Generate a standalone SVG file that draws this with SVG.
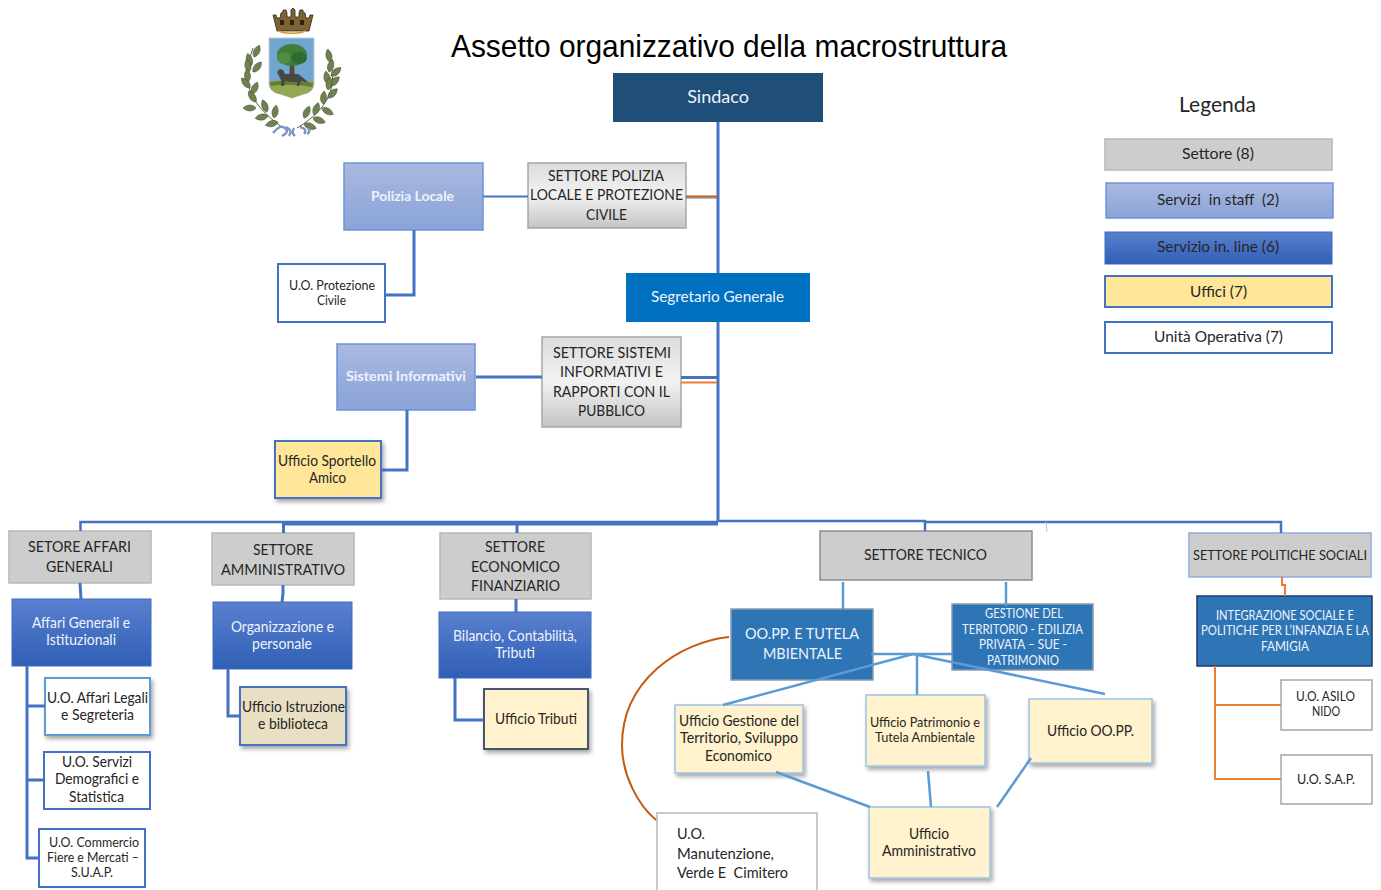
<svg xmlns="http://www.w3.org/2000/svg" xmlns:xlink="http://www.w3.org/1999/xlink" width="1381" height="890" viewBox="0 0 1381 890">
<style>
text{font-family:Lato,"Liberation Sans",sans-serif;font-size:15px;text-anchor:middle;fill:#262626}
.w{fill:#eef3fb}.b{font-weight:700}.s13{font-size:13px}.s14{font-size:14px}.s16{font-size:16px}.st{text-anchor:start}
.gray{fill:url(#g);stroke:#a6a6a6;stroke-width:1.5}
.gray2{fill:#cdcdcd;stroke:#b8b8b8;stroke-width:1.5}
.staff{fill:url(#st);stroke:#6f93d6;stroke-width:1.5}
.line{fill:url(#li);stroke:#3f6dbb;stroke-width:1}
.dk{fill:#2e75b6;stroke:#8a9cb0;stroke-width:1.5}
.uo{fill:#fff;stroke:#4472c4;stroke-width:2}
.uy{fill:#ffe699;stroke:#4472c4;stroke-width:2;filter:url(#sh)}
.uf{fill:#fff2cc;stroke:#9dc3e6;stroke-width:1.5;filter:url(#sh)}
.c{fill:none;stroke:#4472c4;stroke-width:3}
.l{fill:none;stroke:#5b9bd5;stroke-width:2.5}
.o{fill:none;stroke:#c55a11;stroke-width:2}
.o2{fill:none;stroke:#ed7d31;stroke-width:2}
.leaf{fill:#6f8350;stroke:#3a4530;stroke-width:.5}
</style>
<defs>
<linearGradient id="g" x1="0" y1="0" x2="0" y2="1"><stop offset="0" stop-color="#dcdcdc"/><stop offset=".5" stop-color="#f2f2f2"/><stop offset="1" stop-color="#c4c4c4"/></linearGradient>
<linearGradient id="st" x1="0" y1="0" x2="0" y2="1"><stop offset="0" stop-color="#aab9e0"/><stop offset="1" stop-color="#8aa3d9"/></linearGradient>
<linearGradient id="li" x1="0" y1="0" x2="0" y2="1"><stop offset="0" stop-color="#5a80cf"/><stop offset="1" stop-color="#2f5fb5"/></linearGradient>
<filter id="sh" x="-15%" y="-15%" width="130%" height="130%"><feDropShadow dx="2" dy="3" stdDeviation="2" flood-color="#000" flood-opacity=".35"/></filter>
<filter id="soft"><feGaussianBlur stdDeviation=".35"/></filter>
<path id="lf" d="M0 0C3-4 9-4 13 0C9 4 3 4 0 0Z" class="leaf"/>
</defs>

<g id="crest" filter="url(#soft)">
<path d="M273 15l3 0 1 3 3 0 1-5 2-1 0-2 3 0 1 3 0 4 4 0 0-7 2-2 2 2 0 7 4 0 0-4 1-3 3 0 0 2 2 1 1 5 3 0 1-3 3 0-4 16H277Z" fill="#7d6230" stroke="#2f2818" stroke-width=".8"/>
<path d="M280 20h4v5h-4ZM290 20h4v5h-4ZM300 20h4v5h-4Z" fill="#2c2416"/>
<path d="M278 30q14 5 28 0l-3 3q-11 2-22 0Z" fill="#d39a3e"/>
<path d="M269 38h45v45q0 9-10 11l-12 4-12-4q-11-2-11-11Z" fill="#6fa6cf" stroke="#c5c9cc"/>
<path d="M269 82q20-6 45 0v1q0 9-10 11l-12 4-12-4q-11-2-11-11Z" fill="#94a852"/>
<path d="M270 82q20-3 43 1l-1 4q-20-4-41-1Z" fill="#5f7f38"/>
<path d="M290 62h4l1 20h-6Z" fill="#5a4630"/>
<ellipse cx="292" cy="55" rx="15" ry="11" fill="#3f7d3b"/>
<ellipse cx="284" cy="58" rx="7" ry="6" fill="#4f8c42"/>
<ellipse cx="299" cy="58" rx="8" ry="6" fill="#2f6a33"/>
<path d="M277 72l3-3 3 1 2 4 13 0 4 3 7 6-8-2-2 5h-2l0-4-12-1-1 5h-3l0-6-3-6Z" fill="#4a4642"/>
<g transform="translate(220 0)">
<path d="M33 48C22 80 25 100 63 128M107 50C118 80 115 105 77 128" fill="none" stroke="#5a6048" stroke-width="1"/>
<use xlink:href="#lf" transform="translate(34 57) rotate(-65)"/>
<use xlink:href="#lf" transform="translate(31 66) rotate(-105)"/>
<use xlink:href="#lf" transform="translate(33 72) rotate(-50)"/>
<use xlink:href="#lf" transform="translate(29 72) rotate(-100)"/>
<use xlink:href="#lf" transform="translate(28 82) rotate(-95)"/>
<use xlink:href="#lf" transform="translate(30 88) rotate(-130)"/>
<use xlink:href="#lf" transform="translate(32 94) rotate(-65)"/>
<use xlink:href="#lf" transform="translate(36 102) rotate(-125)"/>
<use xlink:href="#lf" transform="translate(36 108) rotate(180)"/>
<use xlink:href="#lf" transform="translate(47 112) rotate(-110)"/>
<use xlink:href="#lf" transform="translate(48 116) rotate(170)"/>
<use xlink:href="#lf" transform="translate(54 118) rotate(-80)"/>
<use xlink:href="#lf" transform="translate(58 122) rotate(165)"/>
<use xlink:href="#lf" transform="translate(110 62) rotate(-100)"/>
<use xlink:href="#lf" transform="translate(109 72) rotate(-75)"/>
<use xlink:href="#lf" transform="translate(111 76) rotate(-40)"/>
<use xlink:href="#lf" transform="translate(108 84) rotate(-100)"/>
<use xlink:href="#lf" transform="translate(110 86) rotate(-45)"/>
<use xlink:href="#lf" transform="translate(108 90) rotate(-80)"/>
<use xlink:href="#lf" transform="translate(108 98) rotate(-45)"/>
<use xlink:href="#lf" transform="translate(103 104) rotate(-85)"/>
<use xlink:href="#lf" transform="translate(102 108) rotate(30)"/>
<use xlink:href="#lf" transform="translate(94 115) rotate(-70)"/>
<use xlink:href="#lf" transform="translate(84 118) rotate(-65)"/>
<use xlink:href="#lf" transform="translate(93 118) rotate(20)"/>
<use xlink:href="#lf" transform="translate(84 124) rotate(20)"/>
<path d="M53 133q7-9 12-5t-3 8M66 127q7 3 3 9M74 128q-3 5 1 8M80 127q8 2 4 7M88 128q3 4-1 6" fill="none" stroke="#7c95c4" stroke-width="2.4"/>
</g>
</g>

<text x="729" y="57" style="font-family:'Liberation Sans',sans-serif;font-size:32px;fill:#000" textLength="556" lengthAdjust="spacingAndGlyphs">Assetto organizzativo della macrostruttura</text>

<g id="sindaco"><rect x="613" y="73" width="210" height="49" fill="#1f4e79"/><text x="718" y="103" class="w" style="font-size:18px">Sindaco</text></g>
<g id="segretario"><rect x="626" y="273" width="184" height="49" fill="#0070c0"/><text x="717.500" y="302" class="w s16" textLength="133" lengthAdjust="spacingAndGlyphs">Segretario Generale</text></g>

<g id="polizia-locale"><rect x="344" y="163" width="139" height="67" class="staff"/><text x="412.500" y="201" class="w b s14" textLength="83" lengthAdjust="spacingAndGlyphs">Polizia Locale</text></g>
<g id="settore-polizia"><rect x="528" y="163" width="158" height="65" class="gray"/><text x="606" y="181" class="s16" textLength="116" lengthAdjust="spacingAndGlyphs">SETTORE POLIZIA</text><text x="606.500" y="200" class="s16" textLength="153" lengthAdjust="spacingAndGlyphs">LOCALE E PROTEZIONE</text><text x="606.500" y="220" class="s16" textLength="41" lengthAdjust="spacingAndGlyphs">CIVILE</text></g>
<g id="uo-protezione"><rect x="278" y="264" width="107" height="58" class="uo"/><text x="332" y="290" class="s13" textLength="86" lengthAdjust="spacingAndGlyphs">U.O. Protezione</text><text x="331.500" y="305" class="s13" textLength="29" lengthAdjust="spacingAndGlyphs">Civile</text></g>
<g id="sistemi-informativi"><rect x="337" y="344" width="138" height="66" class="staff"/><text x="406" y="381" class="w b s14" textLength="120" lengthAdjust="spacingAndGlyphs">Sistemi Informativi</text></g>
<g id="settore-sistemi"><rect x="542" y="337" width="139" height="90" class="gray"/><text x="612" y="358" class="s16" textLength="118" lengthAdjust="spacingAndGlyphs">SETTORE SISTEMI</text><text x="611.500" y="377" class="s16" textLength="103" lengthAdjust="spacingAndGlyphs">INFORMATIVI E</text><text x="611.500" y="397" class="s16" textLength="117" lengthAdjust="spacingAndGlyphs">RAPPORTI CON IL</text><text x="611.500" y="416" class="s16" textLength="67" lengthAdjust="spacingAndGlyphs">PUBBLICO</text></g>
<g id="ufficio-sportello"><rect x="275" y="441" width="106" height="57" class="uy"/><text x="327" y="466" textLength="98" lengthAdjust="spacingAndGlyphs">Ufficio Sportello</text><text x="327.500" y="483" textLength="37" lengthAdjust="spacingAndGlyphs">Amico</text></g>

<g id="settore-affari"><rect x="9" y="531" width="142" height="52" class="gray2"/><text x="79.500" y="552" class="s16" textLength="103" lengthAdjust="spacingAndGlyphs">SETORE AFFARI</text><text x="79.500" y="572" class="s16" textLength="67" lengthAdjust="spacingAndGlyphs">GENERALI</text></g>
<g id="affari-generali"><rect x="12" y="599" width="139" height="67" class="line"/><text x="81" y="628" class="w" textLength="98" lengthAdjust="spacingAndGlyphs">Affari Generali e</text><text x="81" y="645" class="w" textLength="70" lengthAdjust="spacingAndGlyphs">Istituzionali</text></g>
<g id="uo-affari"><rect x="45" y="678" width="105" height="57" class="uo" style="stroke:#5b9bd5;filter:url(#sh)"/><text x="97.500" y="703" textLength="101" lengthAdjust="spacingAndGlyphs">U.O. Affari Legali</text><text x="97.500" y="720" textLength="73" lengthAdjust="spacingAndGlyphs">e Segreteria</text></g>
<g id="uo-servizi"><rect x="44" y="752" width="106" height="57" class="uo"/><text x="97" y="767" textLength="70" lengthAdjust="spacingAndGlyphs">U.O. Servizi</text><text x="97" y="784" textLength="84" lengthAdjust="spacingAndGlyphs">Demografici e</text><text x="96.500" y="802" textLength="55" lengthAdjust="spacingAndGlyphs">Statistica</text></g>
<g id="uo-commercio"><rect x="39" y="829" width="106" height="58" class="uo"/><text x="94" y="847" class="s13" textLength="90" lengthAdjust="spacingAndGlyphs">U.O. Commercio</text><text x="93" y="862" class="s13" textLength="92" lengthAdjust="spacingAndGlyphs">Fiere e Mercati –</text><text x="92" y="877" class="s13" textLength="42" lengthAdjust="spacingAndGlyphs">S.U.A.P.</text></g>

<g id="settore-amministrativo"><rect x="212" y="533" width="142" height="52" class="gray2"/><text x="283" y="555" class="s16" textLength="60" lengthAdjust="spacingAndGlyphs">SETTORE</text><text x="283" y="575" class="s16" textLength="124" lengthAdjust="spacingAndGlyphs">AMMINISTRATIVO</text></g>
<g id="organizzazione"><rect x="213" y="602" width="139" height="67" class="line"/><text x="282.500" y="632" class="w" textLength="103" lengthAdjust="spacingAndGlyphs">Organizzazione e</text><text x="282" y="649" class="w" textLength="60" lengthAdjust="spacingAndGlyphs">personale</text></g>
<g id="ufficio-istruzione"><rect x="240" y="687" width="106" height="58" class="uy" style="fill:#e8dfc4"/><text x="293.500" y="712" textLength="103" lengthAdjust="spacingAndGlyphs">Ufficio Istruzione</text><text x="293" y="729" textLength="70" lengthAdjust="spacingAndGlyphs">e biblioteca</text></g>

<g id="settore-economico"><rect x="440" y="533" width="151" height="66" class="gray2"/><text x="515" y="552" class="s16" textLength="60" lengthAdjust="spacingAndGlyphs">SETTORE</text><text x="515.500" y="572" class="s16" textLength="89" lengthAdjust="spacingAndGlyphs">ECONOMICO</text><text x="515.500" y="591" class="s16" textLength="89" lengthAdjust="spacingAndGlyphs">FINANZIARIO</text></g>
<g id="bilancio"><rect x="439" y="612" width="152" height="66" class="line"/><text x="515" y="641" class="w" textLength="124" lengthAdjust="spacingAndGlyphs">Bilancio, Contabilità,</text><text x="515" y="658" class="w" textLength="40" lengthAdjust="spacingAndGlyphs">Tributi</text></g>
<g id="ufficio-tributi"><rect x="484" y="689" width="104" height="60" class="uf" style="stroke:#44546a;stroke-width:2"/><text x="536" y="724" textLength="82" lengthAdjust="spacingAndGlyphs">Ufficio Tributi</text></g>

<g id="settore-tecnico"><rect x="820" y="531" width="212" height="49" class="gray2" style="stroke:#8c8c8c"/><text x="925.500" y="560" class="s16" textLength="123" lengthAdjust="spacingAndGlyphs">SETTORE TECNICO</text></g>
<g id="oopp-tutela"><rect x="731" y="609" width="142" height="71" class="dk"/><text x="802" y="639" class="w s16" textLength="114" lengthAdjust="spacingAndGlyphs">OO.PP. E TUTELA</text><text x="802.500" y="659" class="w s16" textLength="79" lengthAdjust="spacingAndGlyphs">MBIENTALE</text></g>
<g id="gestione"><rect x="952" y="604" width="141" height="66" class="dk"/><text x="1024" y="618" class="w s13" textLength="78" lengthAdjust="spacingAndGlyphs">GESTIONE DEL</text><text x="1022.500" y="634" class="w s13" textLength="121" lengthAdjust="spacingAndGlyphs">TERRITORIO  - EDILIZIA</text><text x="1023" y="649" class="w s13" textLength="88" lengthAdjust="spacingAndGlyphs">PRIVATA – SUE -</text><text x="1023" y="665" class="w s13" textLength="72" lengthAdjust="spacingAndGlyphs">PATRIMONIO</text></g>
<g id="ufficio-gestione"><rect x="675" y="705" width="128" height="68" class="uf"/><text x="739" y="726" textLength="120" lengthAdjust="spacingAndGlyphs">Ufficio Gestione del</text><text x="739" y="743" textLength="118" lengthAdjust="spacingAndGlyphs">Territorio, Sviluppo</text><text x="738.500" y="761" textLength="67" lengthAdjust="spacingAndGlyphs">Economico</text></g>
<g id="ufficio-patrimonio"><rect x="866" y="695" width="119" height="71" class="uf"/><text x="925" y="727" class="s13" textLength="110" lengthAdjust="spacingAndGlyphs">Ufficio Patrimonio e</text><text x="925" y="742" class="s13" textLength="100" lengthAdjust="spacingAndGlyphs">Tutela Ambientale</text></g>
<g id="ufficio-oopp"><rect x="1029" y="699" width="123" height="64" class="uf"/><text x="1090.500" y="736" textLength="87" lengthAdjust="spacingAndGlyphs">Ufficio OO.PP.</text></g>
<g id="ufficio-amministrativo"><rect x="869" y="807" width="121" height="71" class="uf"/><text x="929" y="839" textLength="40" lengthAdjust="spacingAndGlyphs">Ufficio</text><text x="929" y="856" textLength="94" lengthAdjust="spacingAndGlyphs">Amministrativo</text></g>
<g id="uo-manutenzione"><path d="M657 890V813H817V890" fill="#fff" stroke="#c9c9c9" stroke-width="2"/><text x="677" y="839" class="st" textLength="28" lengthAdjust="spacingAndGlyphs">U.O.</text><text x="677" y="859" class="st" textLength="97" lengthAdjust="spacingAndGlyphs">Manutenzione,</text><text x="677" y="878" class="st" textLength="111" lengthAdjust="spacingAndGlyphs" xml:space="preserve">Verde E  Cimitero</text></g>

<g id="settore-politiche"><rect x="1189" y="533" width="182" height="44" class="gray2" style="stroke:#8faadc"/><text x="1280" y="560" class="s14" textLength="174" lengthAdjust="spacingAndGlyphs">SETTORE POLITICHE SOCIALI</text></g>
<g id="integrazione"><rect x="1197" y="596" width="175" height="70" class="dk" style="stroke:#1f3864"/><text x="1285" y="620" class="w s13" textLength="138" lengthAdjust="spacingAndGlyphs">INTEGRAZIONE SOCIALE E</text><text x="1285" y="635" class="w s13" textLength="168" lengthAdjust="spacingAndGlyphs">POLITICHE PER L’INFANZIA E LA</text><text x="1285" y="651" class="w s13" textLength="48" lengthAdjust="spacingAndGlyphs">FAMIGIA</text></g>
<g id="uo-asilo"><rect x="1281" y="680" width="91" height="50" class="uo" style="stroke:#a6a6a6;stroke-width:1.500"/><text x="1325.500" y="701" class="s13" textLength="59" lengthAdjust="spacingAndGlyphs">U.O. ASILO</text><text x="1326" y="716" class="s13" textLength="28" lengthAdjust="spacingAndGlyphs">NIDO</text></g>
<g id="uo-sap"><rect x="1281" y="755" width="91" height="49" class="uo" style="stroke:#a6a6a6;stroke-width:1.500"/><text x="1326" y="784" class="s13" textLength="58" lengthAdjust="spacingAndGlyphs">U.O. S.A.P.</text></g>

<g id="legenda">
<text x="1217.500" y="112" style="font-size:21px" textLength="77" lengthAdjust="spacingAndGlyphs">Legenda</text>
<rect x="1105" y="139" width="227" height="31" class="gray2"/><text x="1218" y="159" class="s16" textLength="72" lengthAdjust="spacingAndGlyphs">Settore (8)</text>
<rect x="1106" y="183" width="227" height="35" class="staff"/><text x="1218" y="205" class="s16" xml:space="preserve" textLength="122" lengthAdjust="spacingAndGlyphs">Servizi  in staff  (2)</text>
<rect x="1105" y="232" width="227" height="32" class="line"/><text x="1218" y="252" class="s16" textLength="122" lengthAdjust="spacingAndGlyphs">Servizio in. line (6)</text>
<rect x="1105" y="276" width="227" height="31" fill="#ffe699" stroke="#4472c4" stroke-width="2"/><text x="1218.500" y="297" class="s16" textLength="57" lengthAdjust="spacingAndGlyphs">Uffici (7)</text>
<rect x="1105" y="322" width="227" height="31" class="uo"/><text x="1218.500" y="342" class="s16" textLength="129" lengthAdjust="spacingAndGlyphs">Unità Operativa (7)</text>
</g>

<g id="connectors">
<path class="c" d="M718 122V273M718 322V522"/>
<path class="c" style="stroke-width:1" d="M686 198H717"/>
<path class="o" d="M686 196.500H717"/>
<path class="c" style="stroke-width:2" d="M483 196.500H528"/>
<path class="c" d="M414 230V295H385"/>
<path class="c" d="M476 377H542"/>
<path class="c" d="M681 377.500H718"/>
<path class="o2" d="M681 382.500H717"/>
<path class="c" d="M407 410V470H381"/>
<path class="c" d="M80.500 531V522H718" style="stroke-width:2.500"/>
<path class="c" d="M283.500 533V524H718" style="stroke-width:3"/>
<path class="c" d="M517 533V524"/>
<path class="c" style="stroke-width:2.500" d="M718 521H925V531M925 522H1281V533"/>
<path d="M1046 522l1 10" stroke="#a9cbe8" fill="none"/>
<path class="c" d="M80 583l1 16"/>
<path class="c" d="M283 585v8l-1 9"/>
<path class="c" d="M516 599v13"/>
<path class="c" d="M27 666V858H39M27 706H45M27 780H44"/>
<path class="c" d="M228 669V716H240"/>
<path class="c" d="M455 678V720H484"/>
<path class="l" d="M843 582V609M1006 582V606"/>
<path class="l" d="M871 654H952"/>
<path class="l" d="M723 705L913 654L1105 694"/>
<path class="l" d="M917 654V695"/>
<path class="l" d="M776 772L870 807"/>
<path class="l" d="M928 771L931 807"/>
<path class="l" d="M1031 758L997 807"/>
<path class="o" d="M729 637C680 642 622 680 622 745C622 775 638 805 656 820"/>
<path class="o2" d="M1282 577V585H1285V596"/>
<path class="o2" d="M1215 666V779H1281M1215 705H1281"/>
</g>
</svg>
